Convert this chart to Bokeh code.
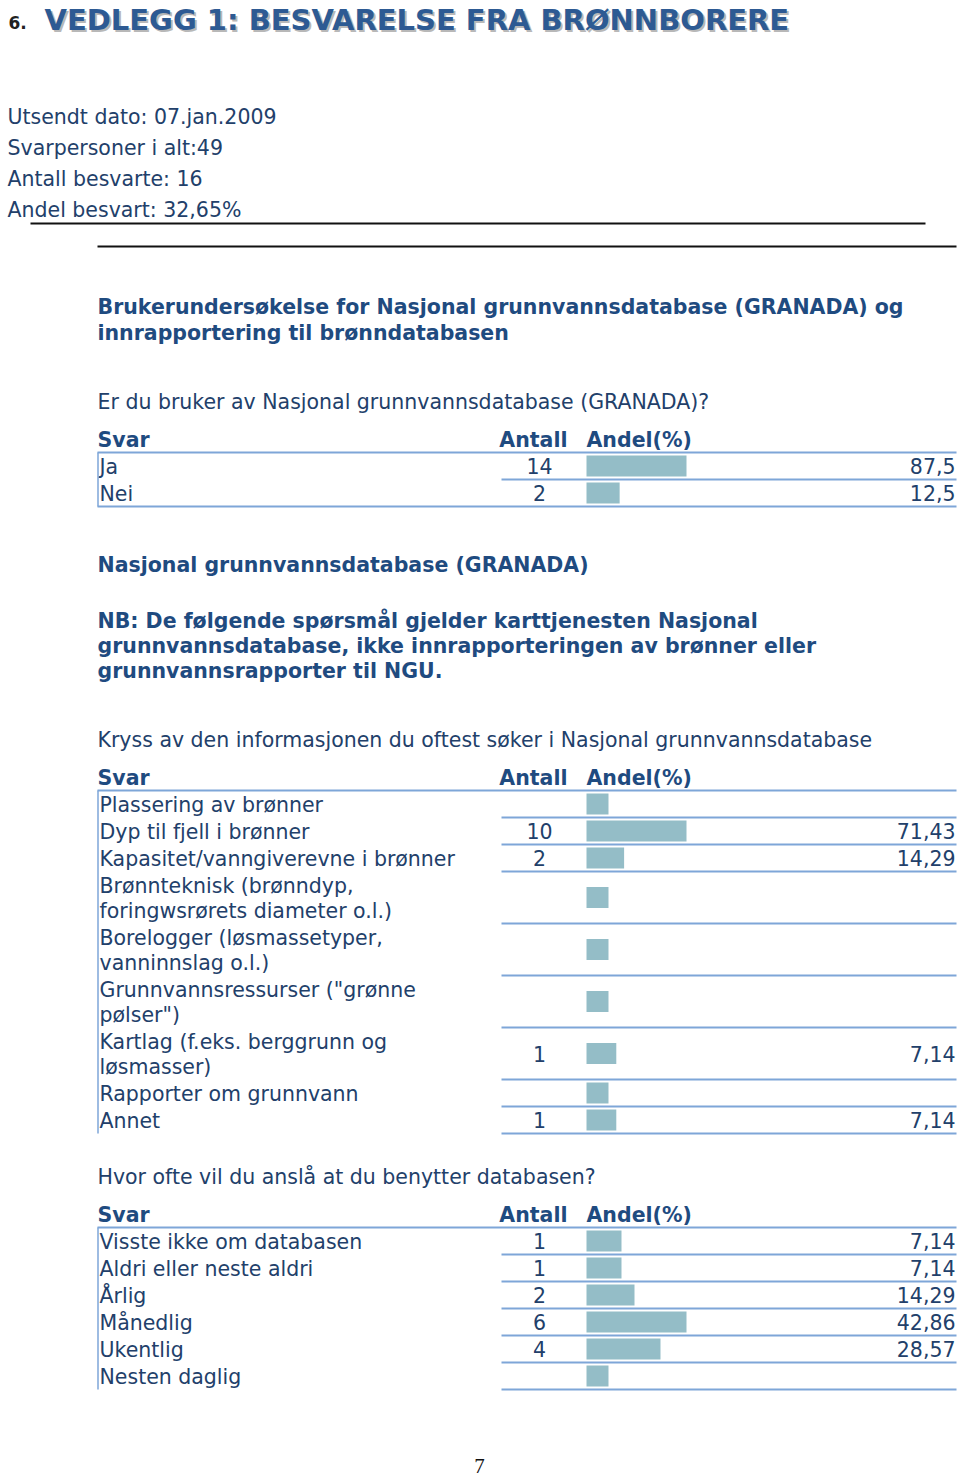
from bokeh.plotting import figure
from bokeh.models import Range1d
from bokeh.core.properties import value
from bokeh.embed import file_html
from bokeh.resources import INLINE

# ---------------- data ----------------
title_num = "6."
title_text = "VEDLEGG 1:  BESVARELSE FRA BRØNNBORERE"
meta_lines = ["Utsendt dato: 07.jan.2009", "Svarpersoner i alt:49",
              "Antall besvarte: 16", "Andel besvart: 32,65%"]
survey_title = ["Brukerundersøkelse for Nasjonal grunnvannsdatabase (GRANADA) og",
                "innrapportering til brønndatabasen"]
header_labels = ["Svar", "Antall", "Andel(%)"]

q1_question = "Er du bruker av Nasjonal grunnvannsdatabase (GRANADA)?"
q1_labels = [["Ja"], ["Nei"]]
q1_counts = [14, 2]
q1_pct = [87.5, 12.5]

section_title = "Nasjonal grunnvannsdatabase (GRANADA)"
nb_lines = ["NB: De følgende spørsmål gjelder karttjenesten Nasjonal",
            "grunnvannsdatabase, ikke innrapporteringen av brønner eller",
            "grunnvannsrapporter til NGU."]

q2_question = "Kryss av den informasjonen du oftest søker i Nasjonal grunnvannsdatabase"
q2_labels = [["Plassering av brønner"],
             ["Dyp til fjell i brønner"],
             ["Kapasitet/vanngiverevne i brønner"],
             ["Brønnteknisk (brønndyp,", "foringwsrørets diameter o.l.)"],
             ["Borelogger (løsmassetyper,", "vanninnslag o.l.)"],
             ["Grunnvannsressurser (\"grønne", "pølser\")"],
             ["Kartlag (f.eks. berggrunn og", "løsmasser)"],
             ["Rapporter om grunnvann"],
             ["Annet"]]
q2_counts = [None, 10, 2, None, None, None, 1, None, 1]
q2_pct = [None, 71.43, 14.29, None, None, None, 7.14, None, 7.14]

q3_question = "Hvor ofte vil du anslå at du benytter databasen?"
q3_labels = [["Visste ikke om databasen"], ["Aldri eller neste aldri"], ["Årlig"],
             ["Månedlig"], ["Ukentlig"], ["Nesten daglig"]]
q3_counts = [1, 1, 2, 6, 4, None]
q3_pct = [7.14, 7.14, 14.29, 42.86, 28.57, None]

page_number = "7"

# ---------------- style ----------------
FONT = "DejaVu Sans"
TITLE_C = "#2D5A93"
TEXT_C = "#22406A"
HEAD_C = "#1F4B80"
BAR_C = "#94BDC7"
LINE_C = "#7EA6D8"
REG = 20.5
BOLD = 20.5

p = figure(width=960, height=1481, output_backend="svg", toolbar_location=None,
           x_range=Range1d(0, 960), y_range=Range1d(1481, 0),
           min_border=0, outline_line_color=None)
p.axis.visible = False
p.grid.visible = False
p.background_fill_color = "white"


def txt(x, y, s, size, color=TEXT_C, bold=False, align="left", font=FONT):
    p.text(x=[x], y=[y], text=[s], text_font=value(font), text_font_size=f"{size}px",
           text_color=color, text_font_style="bold" if bold else "normal",
           text_align=align, text_baseline="middle")


def fmt(v):
    return f"{v:g}".replace(".", ",")


# title
txt(8, 22, title_num, 17, color="#222222", bold=True)
txt(46, 21, title_text, 29, color="#B8B8B8", bold=True)
txt(44, 19, title_text, 29, color=TITLE_C, bold=True)

# meta
for i, s in enumerate(meta_lines):
    txt(7, 116 + 31 * i, s, REG)

p.segment(x0=[30, 97], y0=[223, 246], x1=[925, 956], y1=[223, 246],
          line_color="#111111", line_width=2)

for i, s in enumerate(survey_title):
    txt(97, 306 + 26 * i, s, BOLD, color=HEAD_C, bold=True)

txt(97, 401, q1_question, REG)


def draw_table(header_y, labels, counts, pct, full_bottom):
    txt(97, header_y, header_labels[0], BOLD, color=HEAD_C, bold=True)
    txt(567, header_y, header_labels[1], BOLD, color=HEAD_C, bold=True, align="right")
    txt(586, header_y, header_labels[2], BOLD, color=HEAD_C, bold=True)
    top = header_y + 13
    p.segment(x0=[97], y0=[top], x1=[956], y1=[top], line_color=LINE_C, line_width=2)
    maxp = max(v for v in pct if v is not None)
    y = top
    n = len(labels)
    for i in range(n):
        lab, c, v = labels[i], counts[i], pct[i]
        h = 27 if len(lab) == 1 else 52
        for j, line in enumerate(lab):
            txt(99, y + 14 + 25 * j, line, REG)
        mid = y + h / 2
        if c is not None:
            txt(539, mid, str(c), REG, align="center")
        if v is not None:
            txt(955, mid, fmt(v), REG, align="right")
        frac = (v or 0) / maxp
        p.quad(left=[586], right=[586 + 22 + 78 * frac], top=[mid - 10.5], bottom=[mid + 10.5],
               fill_color=BAR_C, line_color=None)
        y += h
        x0 = 97 if (full_bottom and i == n - 1) else 501
        p.segment(x0=[x0], y0=[y], x1=[956], y1=[y], line_color=LINE_C, line_width=2)
    p.segment(x0=[97.5], y0=[top], x1=[97.5], y1=[y], line_color=LINE_C, line_width=1.5)


draw_table(439, q1_labels, q1_counts, q1_pct, True)

txt(97, 564, section_title, BOLD, color=HEAD_C, bold=True)
for i, s in enumerate(nb_lines):
    txt(97, 620 + 25 * i, s, BOLD, color=HEAD_C, bold=True)

txt(97, 739, q2_question, REG)
draw_table(777, q2_labels, q2_counts, q2_pct, False)

txt(97, 1176, q3_question, REG)
draw_table(1214, q3_labels, q3_counts, q3_pct, False)

txt(479, 1465, page_number, 21, color="#111111", font="Liberation Serif", align="center")

open("out.html", "w").write(file_html(p, INLINE))
